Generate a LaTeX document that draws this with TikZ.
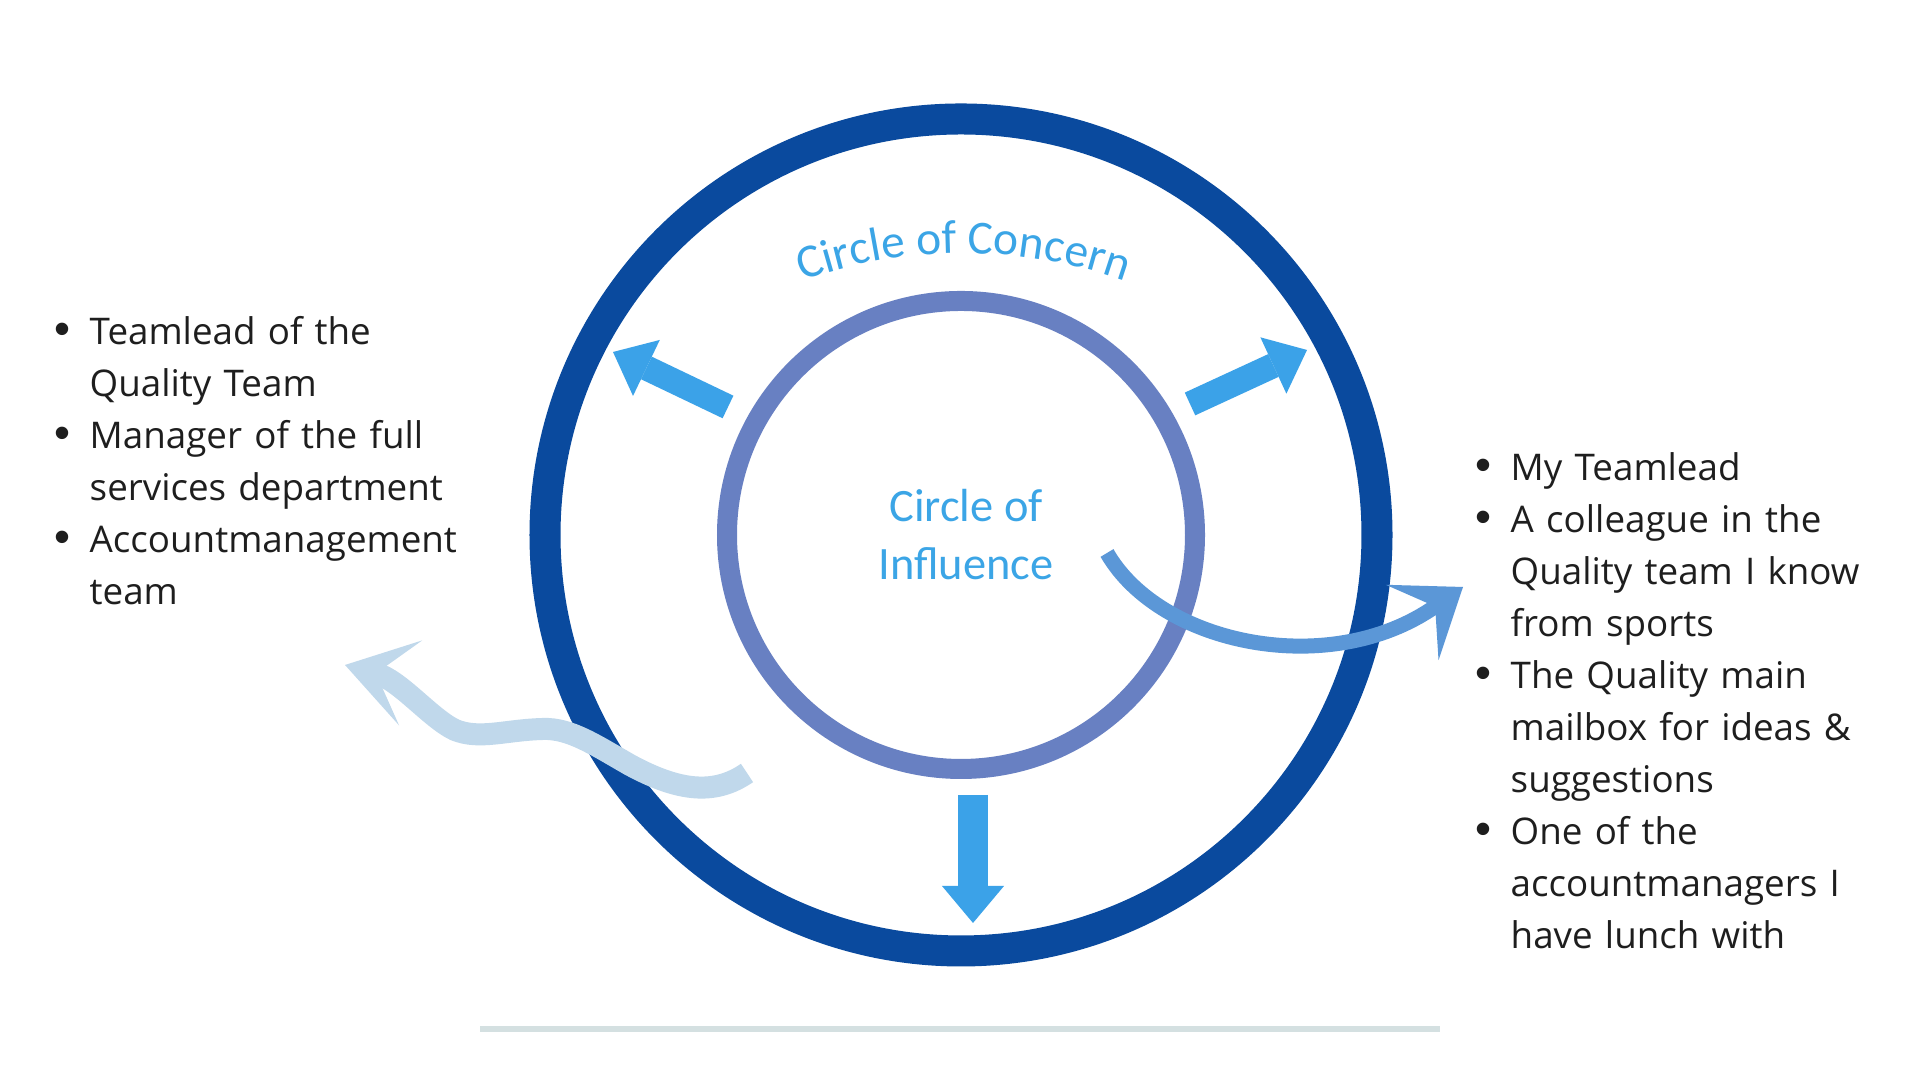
\documentclass[tikz,border=0pt]{standalone}
\usepackage{fontspec}
\setmainfont{Open Sans}
\newfontfamily\circfont{Carlito}
\newfontfamily\bulfont{Liberation Sans}
\usepackage{xcolor}
\definecolor{ringdark}{RGB}{10,74,158}
\definecolor{ringlight}{RGB}{104,128,194}
\definecolor{arrowblue}{RGB}{59,162,232}
\definecolor{curveblue}{RGB}{91,151,215}
\definecolor{curvepale}{RGB}{192,216,235}
\definecolor{labelblue}{RGB}{59,165,230}
\definecolor{listtext}{RGB}{30,30,30}
\definecolor{rulegray}{RGB}{212,224,225}
\usetikzlibrary{arrows.meta, decorations.text}

\newlength\bulindent
\setlength\bulindent{0.35cm}
\newcommand\bulitem[1]{\hangindent=\bulindent\hangafter=1\noindent\makebox[\bulindent][l]{{\bulfont\fontsize{13}{13}\selectfont\textbullet}}#1\par}

\begin{document}
\begin{tikzpicture}[x=0.01cm, y=0.01cm,
    blockarrow/.style={draw=arrowblue, line width=0.25cm, -{Triangle[length=0.37cm, width=0.62cm, line width=0pt]}},
    listbox/.style={anchor=base west, inner sep=0pt, text width=5cm, align=left, text=listtext, font=\fontsize{10.45}{14.77}\selectfont}]
  \useasboundingbox (0,0) rectangle (1920,1080);
  \fill[white] (0,0) rectangle (1920,1080);

  % Outer ring: circle of concern
  \draw[ringdark, line width=0.31cm] (961,545) circle[radius=416];
  % Inner ring: circle of influence
  \draw[ringlight, line width=0.2cm] (961,545) circle[radius=234];

  % Ring labels
  \path[decorate, decoration={text along path, text color=labelblue, text align=center,
      text={|\circfont\fontsize{13.5}{16}\selectfont|Circle of Concern}}]
    (688,740) arc[start angle=125, end angle=55, radius=480];
  \node[font=\circfont\fontsize{13.2}{16.5}\selectfont, text=labelblue, align=center] (influence) at (966,545) {Circle of\\Influence};

  % Outward arrows
  \coordinate (ultail) at (728,673);
  \coordinate (ultip) at (613,728);
  \coordinate (urtail) at (1190,676);
  \coordinate (urtip) at (1307,730);
  \coordinate (dntail) at (973,285);
  \coordinate (dntip) at (973,157);
  \draw[blockarrow] (ultail) -- (ultip);
  \draw[blockarrow] (urtail) -- (urtip);
  \draw[blockarrow, line width=0.3cm, -{Triangle[length=0.37cm, width=0.62cm, line width=0pt]}] (dntail) -- (dntip);

  % Curved arrow to the right list
  \draw[curveblue, line width=0.15cm, -{Stealth[length=0.62cm, width=0.92cm, inset=0.28cm, line width=0pt]}]
    (1107,527) .. controls (1160,435) and (1330,400) .. (1463,493);

  % Curved arrow to the left list
  \draw[curvepale, line width=0.22cm, -{Stealth[length=0.68cm, width=0.88cm, inset=0.36cm, line width=0pt]}]
    (747,307) .. controls (715,285) and (680,288) .. (630,315)
    .. controls (595,335) and (570,352) .. (543,351)
    .. controls (505,350) and (480,340) .. (455,350)
    .. controls (430,362) and (400,400) .. (345,415);

  % Lists
  \node[listbox] (concernlist) at (54,735) {%
    \bulitem{Teamlead of the\newline Quality Team}%
    \bulitem{Manager of the full\newline services department}%
    \bulitem{Accountmanagement\newline team}};
  \node[listbox] (influencelist) at (1475,599) {%
    \bulitem{My Teamlead}%
    \bulitem{A colleague in the\newline Quality team I know\newline from sports}%
    \bulitem{The Quality main\newline mailbox for ideas \&\newline suggestions}%
    \bulitem{One of the\newline accountmanagers I\newline have lunch with}};

  % Bottom rule
  \draw[rulegray, line width=0.06cm] (480,51) -- (1440,51);
\end{tikzpicture}
\end{document}
